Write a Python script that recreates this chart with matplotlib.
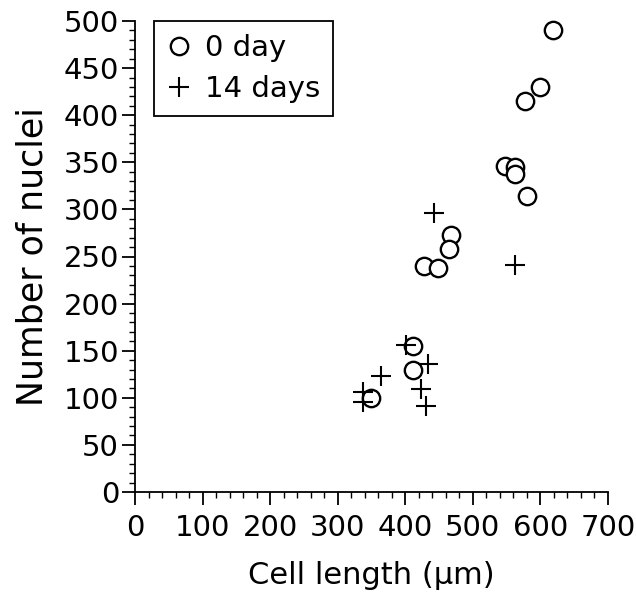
import matplotlib
matplotlib.use("Agg")
import matplotlib.pyplot as plt
from matplotlib.ticker import MultipleLocator

plt.rcParams['font.family'] = ['DejaVu Sans']

# 0 day (circles)
day0_x = [618, 599, 577, 547, 562, 562, 580, 468, 465, 427, 449, 411, 412, 349]
day0_y = [490, 430, 415, 346, 345, 338, 314, 273, 258, 240, 238, 155, 130, 100]

# 14 days (plus)
day14_x = [443, 562, 401, 434, 423, 430, 364, 337, 337]
day14_y = [296, 241, 156, 136, 109, 91, 123, 106, 96]

xticks = [0, 100, 200, 300, 400, 500, 600, 700]
yticks = [0, 50, 100, 150, 200, 250, 300, 350, 400, 450, 500]

fig = plt.figure(figsize=(6.36, 5.92), dpi=100)
ax = fig.add_axes([135/636, 1-492/592, (608-135)/636, (492-21)/592])

ax.plot(day0_x, day0_y, linestyle='none', marker='o', ms=12.5, mfc='white',
        mec='black', mew=1.7, label='0 day', clip_on=False)
ax.plot(day14_x, day14_y, linestyle='none', marker='+', ms=14,
        mec='black', mew=1.5, label='14 days', clip_on=False)

ax.set_xlim(0, 700)
ax.set_ylim(0, 500)
ax.set_xticks(xticks)
ax.set_yticks(yticks)
ax.xaxis.set_minor_locator(MultipleLocator(20))
ax.yaxis.set_minor_locator(MultipleLocator(10))
ax.spines['top'].set_visible(False)
ax.spines['right'].set_visible(False)
for s in ('left', 'bottom'):
    ax.spines[s].set_linewidth(1.3)
ax.tick_params(axis='both', which='major', direction='out', length=9.5, width=1.3,
               labelsize=21)
ax.tick_params(axis='x', which='major', pad=6)
ax.tick_params(axis='y', which='major', pad=2)
ax.tick_params(axis='both', which='minor', direction='out', length=4.5, width=1.0)

ax.set_xlabel('Cell length (\u00b5m)', fontsize=22, labelpad=14)
ax.set_ylabel('Number of nuclei', fontsize=25, labelpad=10)

leg = ax.legend(loc='upper left', bbox_to_anchor=(0.04, 1.0), fontsize=21,
                frameon=True, fancybox=False, edgecolor='black', framealpha=1,
                handlelength=0.8, handletextpad=0.5, borderpad=0.45,
                labelspacing=0.45, borderaxespad=0.0)
leg.get_frame().set_linewidth(1.3)

fig.savefig('out.png', dpi=100)
